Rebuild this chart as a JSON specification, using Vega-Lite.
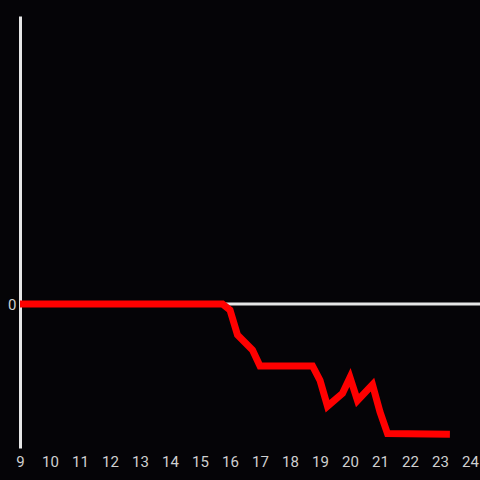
{
  "$schema": "https://vega.github.io/schema/vega-lite/v6.json",
  "width": 460,
  "height": 432,
  "autosize": {"type": "none"},
  "padding": {"left": 20, "top": 16, "right": 0, "bottom": 32},
  "background": "#050407",
  "config": {"view": {"stroke": null}, "font": "Roboto"},
  "data": {"values": [
    {"t": 9, "v": 0},
    {"t": 15.75, "v": 0},
    {"t": 16.0, "v": -0.042},
    {"t": 16.25, "v": -0.215},
    {"t": 16.75, "v": -0.32},
    {"t": 17.0, "v": -0.43},
    {"t": 18.75, "v": -0.43},
    {"t": 19.0, "v": -0.53},
    {"t": 19.25, "v": -0.71},
    {"t": 19.75, "v": -0.62},
    {"t": 20.0, "v": -0.51},
    {"t": 20.25, "v": -0.67},
    {"t": 20.75, "v": -0.56},
    {"t": 21.0, "v": -0.75},
    {"t": 21.25, "v": -0.90},
    {"t": 23.33, "v": -0.905}
  ]},
  "layer": [
    {
      "mark": {"type": "rule", "color": "#e6e6e6", "strokeWidth": 3},
      "data": {"values": [{"z": 0}]},
      "encoding": {"y": {"field": "z", "type": "quantitative", "scale": {"domain": [-1, 2], "nice": false}}}
    },
    {
      "mark": {"type": "line", "color": "#ff0000", "strokeWidth": 7, "strokeJoin": "miter", "strokeCap": "butt"},
      "encoding": {
        "x": {"field": "t", "type": "quantitative",
          "scale": {"domain": [9, 24.3333], "nice": false, "zero": false},
          "axis": {"values": [9,10,11,12,13,14,15,16,17,18,19,20,21,22,23,24], "title": null, "domain": false, "ticks": false, "grid": false, "labelColor": "#d0d0d0", "labelFontSize": 15, "labelPadding": 6, "labelFlush": false}},
        "y": {"field": "v", "type": "quantitative",
          "scale": {"domain": [-1, 2], "nice": false, "zero": false},
          "axis": {"values": [0], "format": "d", "title": null, "ticks": false, "grid": false, "domainColor": "#e6e6e6", "domainWidth": 3, "labelColor": "#d0d0d0", "labelFontSize": 15, "labelPadding": 4}}
      }
    }
  ]
}
